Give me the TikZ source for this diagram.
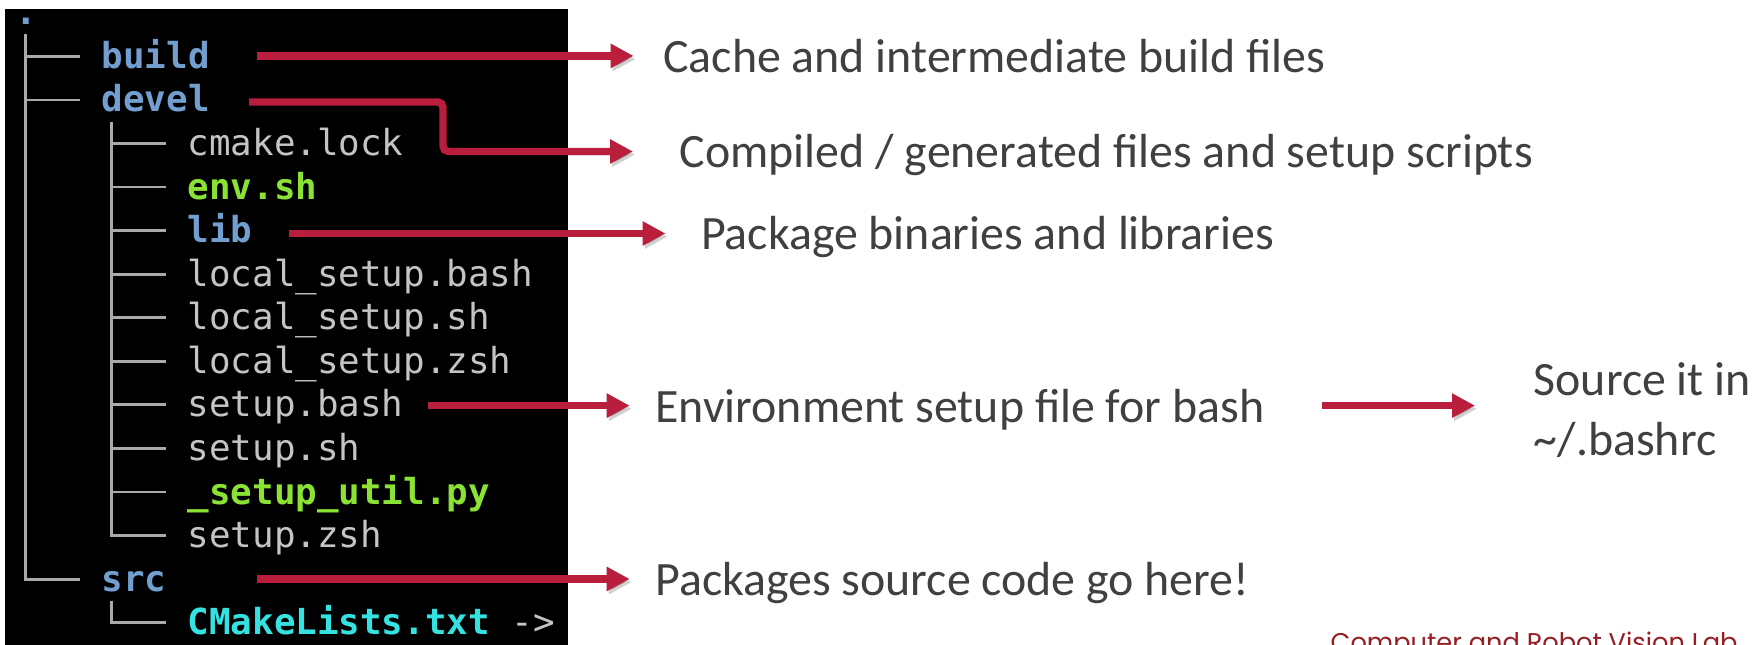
\documentclass[tikz,border=0pt]{standalone}
\usepackage{fontspec}
\usetikzlibrary{arrows.meta}

\newfontfamily\termfam{DejaVu Sans Mono}
\newfontfamily\descfam{Carlito}
\newfontfamily\labfam{Poppins}

\definecolor{termblue}{RGB}{114,159,207}
\definecolor{termgreen}{RGB}{138,226,52}
\definecolor{termcyan}{RGB}{52,226,226}
\definecolor{termgray}{RGB}{196,196,196}
\definecolor{treegray}{RGB}{170,170,170}
\definecolor{arrowred}{RGB}{185,30,60}
\definecolor{descgray}{RGB}{64,64,64}
\definecolor{labred}{RGB}{150,30,35}

\begin{document}
\begin{tikzpicture}[entry/.style={anchor=west, inner sep=0, text height=0.30cm, text depth=0.06cm, text=termgray, font=\termfam\fontsize{10.2}{12}\selectfont},
	dir/.style={entry, text=termblue, font=\termfam\bfseries\fontsize{10.2}{12}\selectfont},
	exe/.style={entry, text=termgreen, font=\termfam\bfseries\fontsize{10.2}{12}\selectfont},
	treeline/.style={draw=treegray, line width=0.8pt},
	descbase/.style={inner sep=0, text=descgray, font=\descfam\fontsize{13.62}{17}\selectfont},
	desc/.style={descbase, anchor=west, text height=0.40cm, text depth=0.07cm},
	callout/.style={draw=arrowred, line width=2.1pt, -{Triangle[length=2.3mm,width=2.3mm]}, preaction={draw=black, opacity=0.18, transform canvas={shift={(0.6pt,-0.9pt)}}}}]
	\useasboundingbox (0,0) rectangle (17.52,-6.45);
	\clip (0,0) rectangle (17.52,-6.45);
	\fill[white] (0,0) rectangle (17.52,-6.45);
	% terminal window
	\fill[black] (0.055,-0.09) rectangle (5.68,-6.45);
	\node[dir] (dot) at (0.15,-0.13) {.};
	\node[dir] (build) at (1.01,-0.565) {build};
	\node[dir] (devel) at (1.01,-1.0) {devel};
	\node[entry] (cmake) at (1.87,-1.436) {cmake.lock};
	\node[exe] (envsh) at (1.87,-1.871) {env.sh};
	\node[dir] (lib) at (1.87,-2.307) {lib};
	\node[entry] (lsbash) at (1.87,-2.743) {local\_setup.bash};
	\node[entry] (lssh) at (1.87,-3.178) {local\_setup.sh};
	\node[entry] (lszsh) at (1.87,-3.614) {local\_setup.zsh};
	\node[entry] (sbash) at (1.87,-4.049) {setup.bash};
	\node[entry] (ssh) at (1.87,-4.485) {setup.sh};
	\node[exe] (sutil) at (1.87,-4.921) {\_setup\_util.py};
	\node[entry] (szsh) at (1.87,-5.356) {setup.zsh};
	\node[dir] (src) at (1.01,-5.792) {src};
	\node[entry] (cml) at (1.87,-6.227) {{\bfseries\color{termcyan}CMakeLists.txt} ->};
	% tree lines
	\coordinate (trunk) at (0.2575,-0.345);
	\draw[treeline] (trunk) |- ([xshift=-2.15mm]src.west);
	\foreach \d in {build,devel}
	\draw[treeline] (trunk |- \d.west) -- ([xshift=-2.15mm]\d.west);
	\coordinate (subtrunk) at (1.1175,-1.218);
	\draw[treeline] (subtrunk) |- ([xshift=-2.15mm]szsh.west);
	\foreach \f in {cmake,envsh,lib,lsbash,lssh,lszsh,sbash,ssh,sutil}
	\draw[treeline] (subtrunk |- \f.west) -- ([xshift=-2.15mm]\f.west);
	\coordinate (srctrunk) at (1.1175,-6.009);
	\draw[treeline] (srctrunk) |- ([xshift=-2.15mm]cml.west);
	% descriptions
	\node[desc] (cache) at (6.626,-0.559) {Cache and intermediate build files};
	\node[desc] (compiled) at (6.79,-1.515) {Compiled / generated files and setup scripts};
	\node[desc] (binaries) at (7.005,-2.335) {Package binaries and libraries};
	\node[desc] (envsetup) at (6.547,-4.056) {Environment setup file for bash};
	\node[descbase, align=left, anchor=west] (sourcein) at (15.33,-4.10) {Source it in\\\textasciitilde/.bashrc};
	\node[desc] (srccode) at (6.547,-5.79) {Packages source code go here!};
	\node[anchor=north west, inner sep=0, text=labred, font=\labfam\fontsize{7.3}{9}\selectfont] (lab) at (13.30,-6.31) {Computer and Robot Vision Lab};
	% arrows
	\coordinate (buildtail) at (2.57,-0.559);
	\draw[callout, shorten >=2.9mm] (buildtail) -- (buildtail -| cache.west);
	\coordinate (develtail) at (2.49,-1.02);
	\draw[callout, rounded corners=1.5pt, shorten >=4.6mm] (develtail) -- (4.43,-1.02) |- (compiled.west);
	\coordinate (libtail) at (2.89,-2.335);
	\draw[callout, shorten >=3.5mm] (libtail) -- (libtail -| binaries.west);
	\coordinate (bashtail) at (4.28,-4.056);
	\draw[callout, shorten >=2.5mm] (bashtail) -- (bashtail -| envsetup.west);
	\draw[callout, shorten <=5.7mm, shorten >=5.8mm] (envsetup.east) -- (envsetup.east -| sourcein.west);
	\coordinate (srctail) at (2.57,-5.79);
	\draw[callout, shorten >=2.5mm] (srctail) -- (srctail -| srccode.west);
\end{tikzpicture}
\end{document}
